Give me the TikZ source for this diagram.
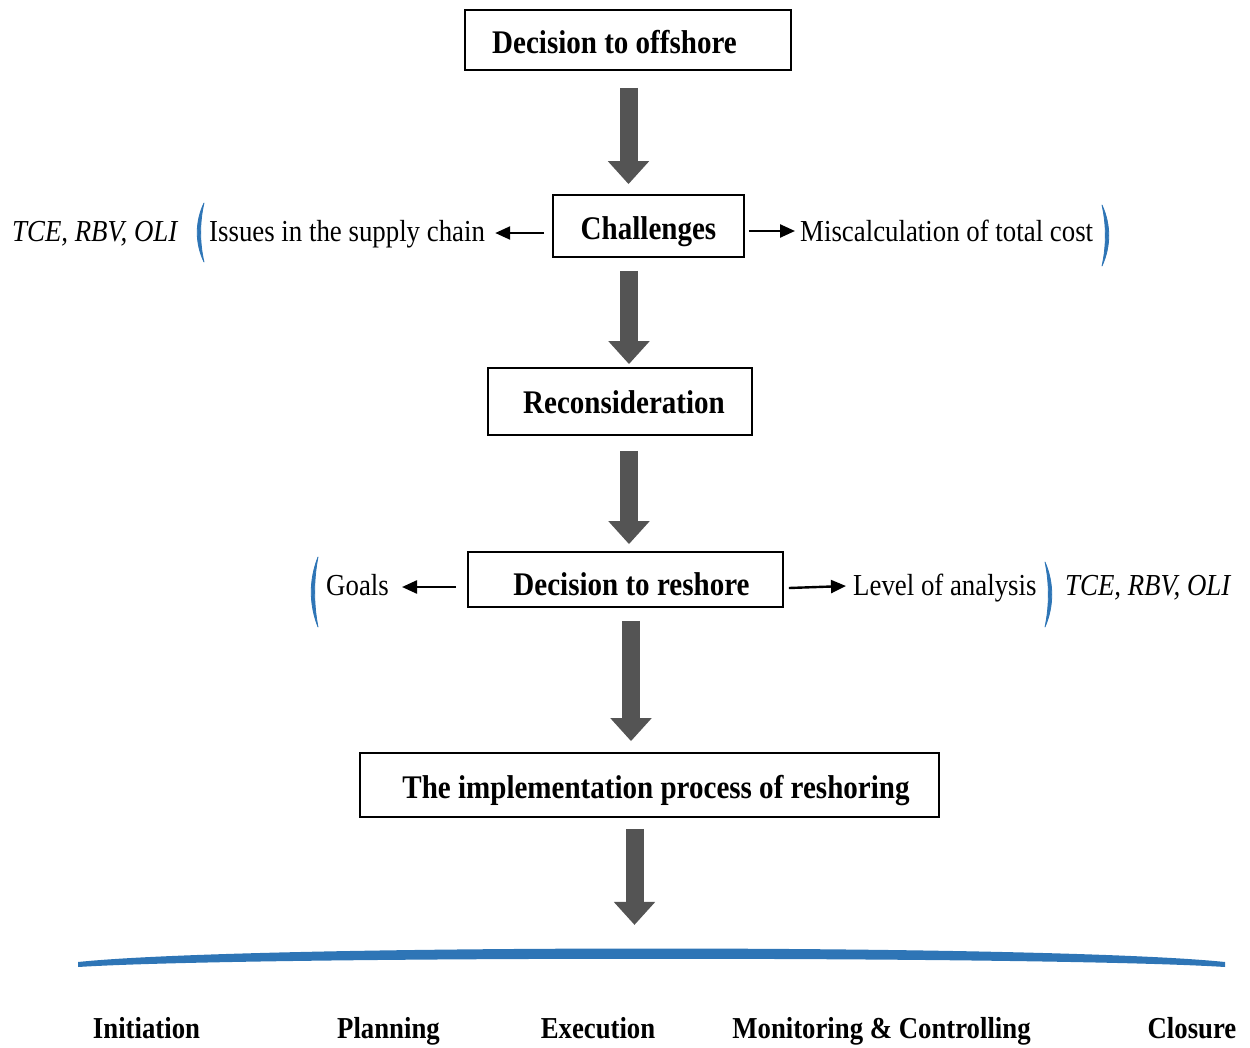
\documentclass[tikz,border=0pt]{standalone}
\usepackage{fontspec}
\setmainfont{Liberation Serif}[FakeStretch=0.88]
\usetikzlibrary{arrows.meta,calc}
\definecolor{arrowgray}{HTML}{545454}
\definecolor{bracketblue}{HTML}{2E75B6}

\begin{document}
\begin{tikzpicture}[x=1pt,y=-1pt,
  box/.style={draw=black, line width=1.8pt, inner sep=0pt,
    text height=28pt, text depth=2pt,
    font=\fontsize{33}{38}\selectfont\bfseries},
  side/.style={inner sep=0pt, anchor=base west, font=\fontsize{30.5}{36}\selectfont},
  theory/.style={inner sep=0pt, anchor=base west, font=\fontsize{30.5}{36}\selectfont\itshape},
  phase/.style={inner sep=0pt, anchor=base, font=\fontsize{30.4}{36}\selectfont\bfseries},
  flow/.style={arrowgray, line width=18pt, -{Triangle[length=23pt,width=40pt]}},
  small/.style={black, line width=2.4pt, -{Triangle[length=15pt,width=13pt]}},
  paren/.style={fill=bracketblue, draw=bracketblue, line width=0.8pt, line join=round},
]
\useasboundingbox (0,0) rectangle (1250,1047);

% main flow boxes
\node[box, minimum width=326pt, minimum height=60pt] (b1) at (628,40)
  {\hspace*{-27pt}Decision to offshore};
\node[box, minimum width=191pt, minimum height=62pt] (b2) at (648.5,226) {Challenges};
\node[box, minimum width=264pt, minimum height=67pt, text height=25pt] (b3) at (620,401.5)
  {\hspace*{8pt}Reconsideration};
\node[box, minimum width=315pt, minimum height=55pt, text height=31pt, text depth=0pt] (b4) at (625.5,579.5)
  {\hspace*{12pt}Decision to reshore};
\node[box, minimum width=579pt, minimum height=64pt] (b5) at (649.5,785)
  {\hspace*{13pt}The implementation process of reshoring};

% fat flow arrows
\coordinate (endflow) at ($(b5.south)+(-15,107)$);
\draw[flow] ($(b1.south)+(0.5,17)$) -- ($(b2.north)+(-20,-10)$);
\draw[flow] ($(b2.south)+(-19.5,13)$) -- ($(b3.north)+(9,-3)$);
\draw[flow] ($(b3.south)+(9,15)$) -- ($(b4.north)+(3.5,-7)$);
\draw[flow] ($(b4.south)+(5.5,13)$) -- ($(b5.north)+(-18.5,-11)$);
\draw[flow] ($(b5.south)+(-15,11)$) -- (endflow);

% challenges row
\node[theory] (tce1) at (12,241) {TCE, RBV, OLI};
\node[side] (issues) at (209,241) {Issues in the supply chain};
\node[side] (miscalc) at (800,241) {Miscalculation of total cost};
\draw[paren] (204,203) .. controls (195,222) and (195,243) .. (204,262)
  .. controls (199.5,243) and (199.5,222) .. cycle;
\draw[paren] (1102,205) .. controls (1111,225) and (1111,246) .. (1102,266)
  .. controls (1106.5,246) and (1106.5,225) .. cycle;
\draw[small] ($(b2.west)+(-8,7)$) -- ($(issues.base east)+(10,-8)$);
\draw[small] ($(b2.east)+(4,5)$) -- ($(miscalc.base west)+(-5,-10)$);

% decision to reshore row
\node[side] (goals) at (326,595) {Goals};
\node[side] (level) at (853,595) {Level of analysis};
\node[theory] (tce2) at (1065,595) {TCE, RBV, OLI};
\draw[paren] (318,557) .. controls (309,580) and (309,604) .. (318,627)
  .. controls (313.5,604) and (313.5,580) .. cycle;
\draw[paren] (1045,562) .. controls (1054,583) and (1054,606) .. (1045,627)
  .. controls (1049.5,606) and (1049.5,583) .. cycle;
\draw[small] ($(b4.west)+(-11,7.5)$) -- ($(goals.base east)+(13,-8)$);
\draw[small] ($(b4.east)+(5,8.5)$) -- ($(level.base west)+(-7,-9)$);

% phase bracket
\fill[bracketblue] (78,962) .. controls (250,944) and (1053,944) .. (1225,962)
  -- (1225,967) .. controls (1053,956) and (250,956) .. (78,967) -- cycle;

% phases
\node[phase] (p1) at (146.5,1038) {Initiation};
\node[phase] (p2) at (388.5,1038) {Planning};
\node[phase] (p3) at (598,1038) {Execution};
\node[phase] (p4) at (881.5,1038) {Monitoring \& Controlling};
\node[phase] (p5) at (1192,1038) {Closure};
\end{tikzpicture}
\end{document}
